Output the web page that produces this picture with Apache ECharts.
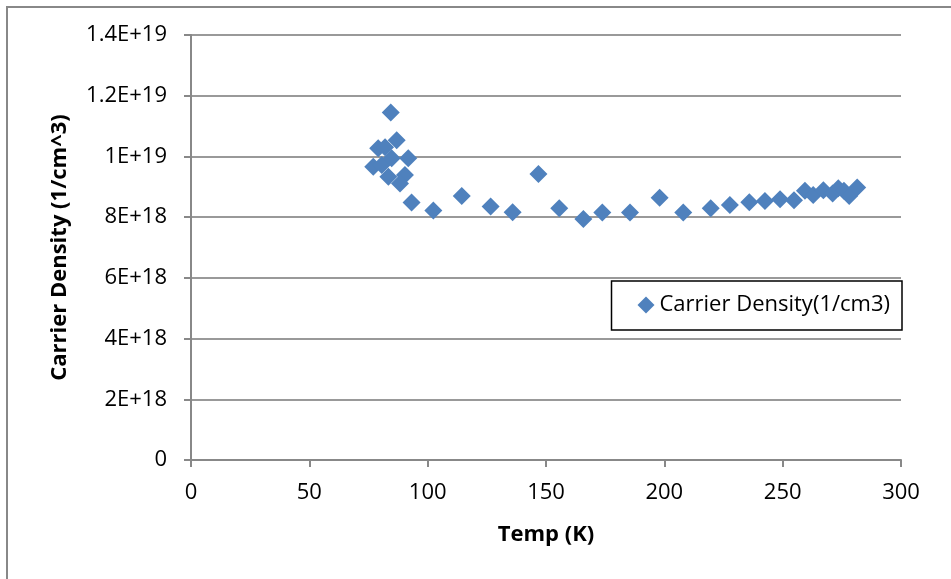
<!DOCTYPE html>
<html><head><meta charset="utf-8">
<script src="https://cdn.jsdelivr.net/npm/echarts@6/dist/echarts.min.js"></script>
<style>html,body{margin:0;padding:0;background:#fff}#c{width:951px;height:579px}</style>
</head><body><div id="c"></div>
<script>
var temps = [84.4, 86.9, 79.1, 82.0, 91.8, 77.0, 80.6, 84.8, 90.4, 88.3, 83.4, 93.2, 102.4, 114.4, 126.6, 135.9, 146.8, 155.6, 165.8, 173.8, 185.5, 198.0, 208.0, 219.6, 227.7, 235.9, 242.5, 248.9, 254.8, 259.4, 262.9, 267.2, 271.1, 273.5, 275.9, 278.1, 281.5];
var density = [1.145e19, 1.053e19, 1.027e19, 1.03e19, 9.94e18, 9.66e18, 9.72e18, 9.94e18, 9.39e18, 9.11e18, 9.33e18, 8.48e18, 8.22e18, 8.70e18, 8.35e18, 8.16e18, 9.42e18, 8.29e18, 7.94e18, 8.15e18, 8.15e18, 8.64e18, 8.15e18, 8.29e18, 8.40e18, 8.49e18, 8.53e18, 8.59e18, 8.56e18, 8.87e18, 8.73e18, 8.89e18, 8.78e18, 8.95e18, 8.87e18, 8.70e18, 8.98e18];
var yTickLabels = {0:'0', 2:'2E+18', 4:'4E+18', 6:'6E+18', 8:'8E+18', 10:'1E+19', 12:'1.2E+19', 14:'1.4E+19'};
var seriesName = 'Carrier Density(1/cm3)';
var xTitle = 'Temp (K)';
var yTitle = 'Carrier Density (1/cm^3)';

var pts = temps.map(function(t,i){return [t, density[i]/1e18];});
var font = '"Open Sans", sans-serif';
var chart = echarts.init(document.getElementById('c'));
chart.setOption({
  animation:false,
  backgroundColor:'#fff',
  graphic:[{type:'rect', shape:{x:7,y:7,width:980,height:620}, style:{fill:null, stroke:'#888', lineWidth:2}, z:-1}],
  grid:{left:191, top:35, width:710, height:425, containLabel:false},
  legend:{show:true, right:49, top:281, orient:'vertical', padding:[13,12,14,26], itemWidth:17, itemHeight:17, itemGap:0,
    borderColor:'#000', borderWidth:1.5, borderRadius:0,
    textStyle:{fontFamily:font, fontSize:22, color:'#000'}, data:[{name:seriesName, icon:'diamond'}]},
  xAxis:{type:'value', min:0, max:300, interval:50,
    axisLine:{show:true, onZero:false, lineStyle:{color:'#888', width:2}},
    axisTick:{show:true, length:7, lineStyle:{color:'#888', width:2}},
    splitLine:{show:false},
    axisLabel:{fontFamily:font, fontSize:22, color:'#000', margin:22},
    name:xTitle, nameLocation:'middle', nameGap:64,
    nameTextStyle:{fontFamily:font, fontSize:22, fontWeight:'bold', color:'#000'}},
  yAxis:{type:'value', min:0, max:14, interval:2,
    axisLine:{show:true, lineStyle:{color:'#888', width:2}},
    axisTick:{show:true, length:7, lineStyle:{color:'#888', width:2}},
    splitLine:{show:true, lineStyle:{color:'#999', width:2}},
    axisLabel:{fontFamily:font, fontSize:22, color:'#000', margin:24, formatter:function(v){return yTickLabels[v];}},
    name:yTitle, nameLocation:'middle', nameGap:120,
    nameTextStyle:{fontFamily:font, fontSize:22, fontWeight:'bold', color:'#000'}},
  series:[{name:seriesName, type:'scatter', symbol:'diamond', symbolSize:18, data:pts,
    itemStyle:{color:'#4f81bd', opacity:1}}]
});
</script></body></html>
